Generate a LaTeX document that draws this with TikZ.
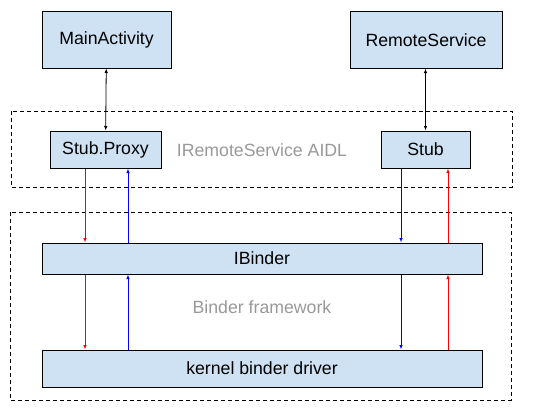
\documentclass[tikz,border=0pt]{standalone}
\usepackage{fontspec}
\setmainfont{Liberation Sans}
\usetikzlibrary{arrows.meta}
\definecolor{boxblue}{HTML}{CFE2F3}
\definecolor{labelgray}{HTML}{999999}

\begin{document}
\begin{tikzpicture}[x=1pt, y=-1pt,
  box/.style={draw, fill=boxblue, line width=1pt, inner sep=0pt, font=\fontsize{17.7}{20}\selectfont},
  frame/.style={draw, line width=0.8pt, dash pattern=on 4pt off 3pt},
  note/.style={text=labelgray, font=\fontsize{17.7}{20}\selectfont},
  tip/.style={line width=0.8pt, -{Latex[length=4.5pt, width=3.5pt]}},
  bothtip/.style={line width=0.8pt, {Latex[length=4.5pt, width=3.5pt]}-{Latex[length=4.5pt, width=3.5pt]}}]
\useasboundingbox (0,0) rectangle (545,412);
\draw[frame] (11,111) rectangle (512,187);
\draw[frame] (10,212) rectangle (511,400);
\node[box, minimum width=129pt, minimum height=56pt] (main) at (106.5,40) {MainActivity};
\node[box, minimum width=152pt, minimum height=56pt] (service) at (426,40) {RemoteService};
\node[box, minimum width=111pt, minimum height=37pt] (proxy) at (105.5,149.5) {Stub.Proxy};
\node[box, minimum width=89pt, minimum height=37pt] (stub) at (425.5,149.5) {Stub};
\node[box, minimum width=440pt, minimum height=31pt] (binder) at (262,258.5) {IBinder};
\node[box, minimum width=440pt, minimum height=37pt] (driver) at (262,368.5) {kernel binder driver};
\node[note] (aidl) at (262,150) {IRemoteService AIDL};
\node[note] (framework) at (262,307) {Binder framework};
\coordinate (redL) at (85,0);
\coordinate (blueL) at (128,0);
\coordinate (blueR) at (401,0);
\coordinate (redR) at (448,0);
\draw[bothtip] (main) -- (proxy);
\draw[bothtip] (service.south -| stub) -- (stub);
\draw[tip, red] (proxy.south -| redL) -- (binder.north -| redL);
\draw[tip, red] (binder.south -| redL) -- (driver.north -| redL);
\draw[tip, blue] (binder.north -| blueL) -- (proxy.south -| blueL);
\draw[tip, blue] (driver.north -| blueL) -- (binder.south -| blueL);
\draw[tip, blue] (stub.south -| blueR) -- (binder.north -| blueR);
\draw[tip, blue] (binder.south -| blueR) -- (driver.north -| blueR);
\draw[tip, red] (binder.north -| redR) -- (stub.south -| redR);
\draw[tip, red] (driver.north -| redR) -- (binder.south -| redR);
\end{tikzpicture}
\end{document}
